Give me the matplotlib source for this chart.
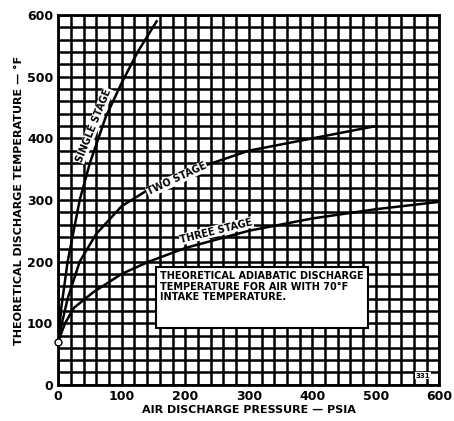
import matplotlib
matplotlib.use("Agg")
import matplotlib.pyplot as plt
import numpy as np

single_p = [0, 5, 15, 34, 50, 75, 100, 125, 155]
single_t = [70, 125, 200, 300, 360, 435, 490, 540, 590]
two_p = [0, 6, 15, 34, 60, 100, 150, 200, 300, 400, 500]
two_t = [70, 100, 140, 200, 245, 290, 322, 345, 380, 400, 420]
three_p = [0, 11, 25, 55, 100, 143, 200, 300, 400, 500, 600]
three_t = [70, 100, 125, 150, 180, 200, 222, 250, 270, 285, 297]

plt.rcParams['font.family'] = 'DejaVu Sans'
plt.rcParams['font.weight'] = 'bold'
fig = plt.figure(figsize=(4.54, 4.21), dpi=100)
ax = fig.add_axes([0.128, 0.086, 0.84, 0.878])
ax.set_xlim(0, 600)
ax.set_ylim(0, 600)
ax.set_xticks(range(0, 601, 20), minor=True)
ax.set_yticks(range(0, 601, 20), minor=True)
ax.set_xticks(range(0, 601, 100))
ax.set_yticks(range(0, 601, 100))
ax.grid(True, which='both', color='black', lw=1.8)
ax.tick_params(which='both', length=0, labelsize=9)
for s in ax.spines.values():
    s.set_linewidth(2)
for p, t in [(single_p, single_t), (two_p, two_t), (three_p, three_t)]:
    ax.plot(p, t, color='black', lw=1.8, zorder=3)
ax.plot([0], [70], 'o', mfc='white', mec='black', ms=5, clip_on=False, zorder=4)

kw = dict(fontsize=7, fontweight='bold', ha='center', va='center', zorder=5,
          bbox=dict(fc='white', ec='none', pad=0.5))
ax.text(56, 421, 'SINGLE STAGE', rotation=68, **kw)
ax.text(187, 334, 'TWO STAGE', rotation=25, **kw)
ax.text(249, 250, 'THREE STAGE', rotation=14, **kw)
ax.text(160, 185, 'THEORETICAL ADIABATIC DISCHARGE\nTEMPERATURE FOR AIR WITH 70°F\nINTAKE TEMPERATURE.\n\n',
        fontsize=7, fontweight='bold', ha='left', va='top', zorder=5, linespacing=1.1,
        bbox=dict(fc='white', ec='black', lw=1.5, pad=3))
ax.text(585, 10, '331', fontsize=5, ha='right', va='bottom', zorder=5,
        bbox=dict(fc='white', ec='none', pad=0.5))
ax.set_xlabel('AIR DISCHARGE PRESSURE — PSIA', fontsize=8, fontweight='bold', labelpad=2)
ax.set_ylabel('THEORETICAL DISCHARGE TEMPERATURE — °F', fontsize=8, fontweight='bold', labelpad=2)
fig.savefig('out.png', dpi=100)
